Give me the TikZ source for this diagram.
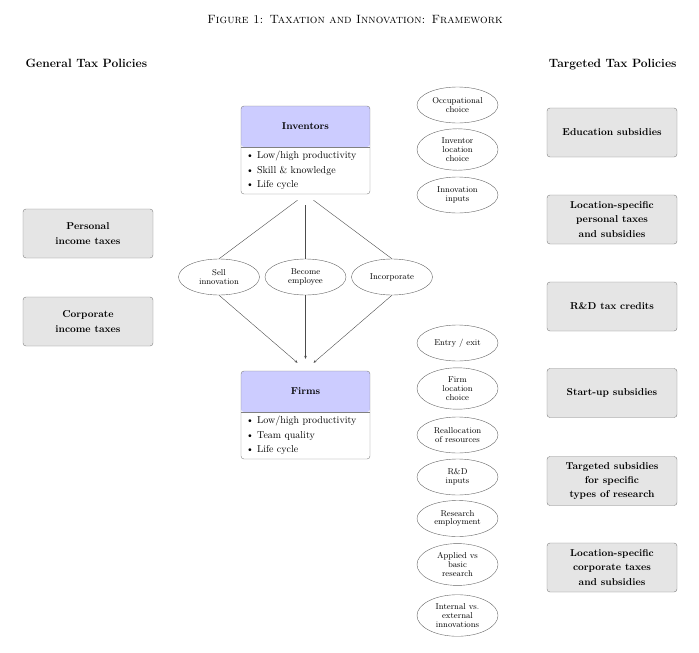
\documentclass[tikz,border=0pt]{standalone}
\usepackage{amsmath, amssymb}
\usepackage{tikz}
\usepackage{xcolor}
\usetikzlibrary{shapes.geometric, arrows.meta}

\begin{document}
\begin{tikzpicture}[x=1pt, y=-1pt,
  policy/.style={draw=gray, fill=gray!20, rounded corners=3pt, minimum width=130pt, minimum height=49pt, align=center, font=\linespread{1.2}\selectfont\bfseries},
  channel/.style={draw=black!60, ellipse, minimum width=81pt, minimum height=36pt, inner sep=3pt, align=center, font=\fontsize{8.5}{8.7}\selectfont},
  agent/.style={draw=gray, fill=white, rounded corners=3pt, minimum width=129pt, minimum height=88pt,
    path picture={\fill[blue!20] (path picture bounding box.north west) rectangle ([yshift=-41pt]path picture bounding box.north east);}},
  items/.style={text width=119pt, inner xsep=5pt, align=left, font=\linespread{1.2}\selectfont},
  link/.style={draw=black!70},
  flow/.style={draw=black!70, -{Stealth[length=3pt, width=2.5pt]}}]
\useasboundingbox (0,0) rectangle (699,653);

% Title and column headings
\node[font=\large] (title) at (355,19) {\textsc{Figure 1: Taxation and Innovation: Framework}};
\node[right, font=\large\bfseries] (general) at (22,63) {General Tax Policies};
\node[left, font=\large\bfseries] (targeted) at (680,65) {Targeted Tax Policies};

% Inventors
\node[agent] (inv) at (305.5,150) {};
\draw[gray] ([yshift=-41pt]inv.north west) -- ([yshift=-41pt]inv.north east);
\node[font=\bfseries] (invtitle) at (305.5,126.5) {Inventors};
\node[items] (invitems) at (305.5,170.5) {\textbullet\ Low/high productivity\\ \textbullet\ Skill \& knowledge\\ \textbullet\ Life cycle};

% Firms
\node[agent] (firm) at (305.5,415) {};
\draw[gray] ([yshift=-41pt]firm.north west) -- ([yshift=-41pt]firm.north east);
\node[font=\bfseries] (firmtitle) at (305.5,391.5) {Firms};
\node[items] (firmitems) at (305.5,435.5) {\textbullet\ Low/high productivity\\ \textbullet\ Team quality\\ \textbullet\ Life cycle};

% Ways from inventors to firms
\node[channel] (sell) at (219,277) {Sell\\innovation};
\node[channel] (become) at (305.5,277) {Become\\employee};
\node[channel] (incorp) at (392,277) {Incorporate};

\draw[link] ([xshift=-8pt, yshift=-6pt]inv.south) -- (sell.north);
\draw[link] ([yshift=-11pt]inv.south) -- (become.north);
\draw[link] ([xshift=8pt, yshift=-6pt]inv.south) -- (incorp.north);
\draw[flow] (sell.south) -- ([xshift=-8pt, yshift=8pt]firm.north);
\draw[flow] (become.south) -- ([yshift=12pt]firm.north);
\draw[flow] (incorp.south) -- ([xshift=8pt, yshift=8pt]firm.north);

% Inventor margins
\node[channel] (occup) at (457.5,105) {Occupational\\choice};
\node[channel] (invloc) at (457.5,149.5) {Inventor\\location\\choice};
\node[channel] (innovin) at (457.5,195) {Innovation\\inputs};

% Firm margins
\node[channel] (entry) at (457.5,343) {Entry / exit};
\node[channel] (firmloc) at (457.5,388.5) {Firm\\location\\choice};
\node[channel] (realloc) at (457.5,435) {Reallocation\\of resources};
\node[channel] (rdin) at (457.5,477) {R\&D\\inputs};
\node[channel] (resemp) at (457.5,518.5) {Research\\employment};
\node[channel] (applied) at (457.5,564.5) {Applied vs\\basic\\research};
\node[channel] (extinn) at (457.5,615.5) {Internal vs.\\external\\innovations};

% General tax policies
\node[policy] (persinc) at (88,233.5) {Personal\\income taxes};
\node[policy] (corpinc) at (88,321.5) {Corporate\\income taxes};

% Targeted tax policies
\node[policy] (edusub) at (612,132.5) {Education subsidies};
\node[policy] (locpers) at (612,219.5) {Location-specific\\personal taxes\\and subsidies};
\node[policy] (rdcred) at (612,306.5) {R\&D tax credits};
\node[policy] (startup) at (612,393) {Start-up subsidies};
\node[policy] (targsub) at (612,481) {Targeted subsidies\\for specific\\types of research};
\node[policy] (loccorp) at (612,567.5) {Location-specific\\corporate taxes\\and subsidies};
\end{tikzpicture}
\end{document}
